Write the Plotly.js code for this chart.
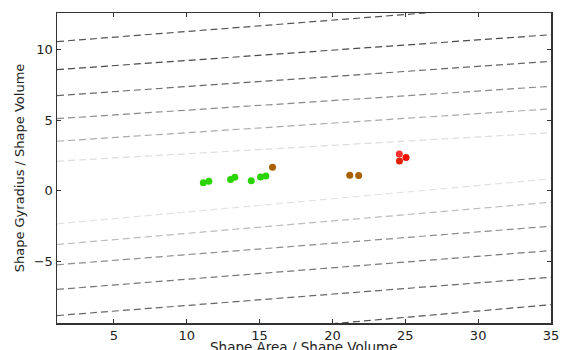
<!DOCTYPE html>
<html>
<head>
<meta charset="utf-8">
<script src="https://cdn.plot.ly/plotly-3.0.1.min.js"></script>
<style>html,body{margin:0;padding:0;background:#fff;}#chart{width:565px;height:350px;}</style>
</head>
<body>
<div id="chart"></div>
<script>
// Guide lines: y value at left (x=1.1) and right (x=35) ends
const lineX = [1.1, 35];
const lineLeftY  = [10.57, 8.58, 6.74, 5.1, 3.5, 2.08, -2.36, -3.83, -5.27, -7.02, -8.87, -11.15];
const lineRightY = [13.3, 11.06, 9.17, 7.4, 5.8, 4.1, 0.83, -0.83, -2.53, -4.26, -6.15, -8.1];
const lineGrays  = ['#555', '#4a4a4a', '#666', '#8a8a8a', '#aaa', '#dcdcdc', '#e2e2e2', '#bbb', '#8c8c8c', '#777', '#666', '#555'];

// Scatter points
const greenX = [11.14, 11.52, 13.01, 13.3, 14.43, 15.07, 15.43];
const greenY = [0.55, 0.66, 0.78, 0.94, 0.69, 0.97, 1.04];
const brownX = [15.89, 21.19, 21.8];
const brownY = [1.65, 1.09, 1.06];
const redX = [24.59, 25.05, 24.6];
const redY = [2.6, 2.34, 2.1];

const xTitle = 'Shape Area / Shape Volume';
const yTitle = 'Shape Gyradius / Shape Volume';

const traces = [];
lineLeftY.forEach((ly, i) => {
  traces.push({
    x: lineX, y: [ly, lineRightY[i]], mode: 'lines', type: 'scatter',
    line: {color: lineGrays[i], width: 1.2, dash: '7px,4px'},
    hoverinfo: 'skip', showlegend: false
  });
});
traces.push({x: greenX, y: greenY, mode: 'markers', type: 'scatter',
  marker: {color: '#2ad400', size: 7, line: {width: 0}}, showlegend: false});
traces.push({x: brownX, y: brownY, mode: 'markers', type: 'scatter',
  marker: {color: '#a86000', size: 7, line: {width: 0}}, showlegend: false});
traces.push({x: redX, y: redY, mode: 'markers', type: 'scatter',
  marker: {color: ['#ff3030', '#ee1100', '#e02000'], size: 7, line: {width: 0}}, showlegend: false});

const fontFam = 'DejaVu Sans, sans-serif';
const axisCommon = {
  showgrid: false, zeroline: false, showline: true, linecolor: '#333', linewidth: 1.5,
  mirror: 'allticks', ticks: 'inside', ticklen: 4, tickcolor: '#333', tickwidth: 1,
  tickfont: {family: fontFam, size: 13, color: '#222'}
};

const layout = {
  width: 565, height: 350,
  margin: {l: 57, r: 14, t: 13, b: 27},
  paper_bgcolor: '#fff', plot_bgcolor: '#fff',
  xaxis: Object.assign({}, axisCommon, {
    range: [1.1, 35], tickvals: [5, 10, 15, 20, 25, 30, 35]
  }),
  yaxis: Object.assign({}, axisCommon, {
    range: [-9.4, 12.6], tickvals: [-5, 0, 5, 10], ticktext: ['\u22125', '0', '5', '10'],
    title: {text: yTitle, standoff: 6,
      font: {family: fontFam, size: 13, color: '#222'}}
  }),
  annotations: [{
    text: xTitle, xref: 'paper', yref: 'paper', x: 0.5, y: -0.078,
    xanchor: 'center', yanchor: 'middle', showarrow: false,
    font: {family: fontFam, size: 13.5, color: '#222'}
  }]
};

Plotly.newPlot('chart', traces, layout, {displayModeBar: false, staticPlot: true});
</script>
</body>
</html>
